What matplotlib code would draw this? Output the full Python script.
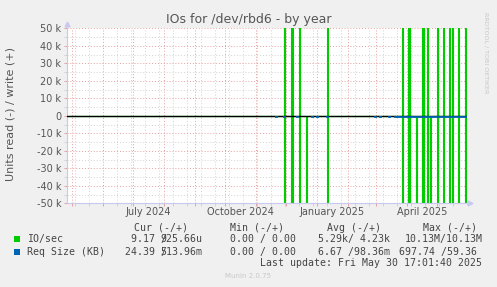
import matplotlib
matplotlib.use("Agg")
import matplotlib.pyplot as plt
import matplotlib.dates as mdates
import matplotlib.ticker as mticker
import matplotlib.transforms as mtransforms
from matplotlib.patches import Rectangle
import numpy as np
import pandas as pd

W, H = 497, 287

last_update = pd.Timestamp("2025-05-30 17:01:40")
start = last_update - pd.Timedelta(days=400)

# IO/sec spikes, one day each (write drawn up, read drawn down)
io_write_days = ["2024-11-29", "2024-12-06", "2024-12-07", "2024-12-14", "2025-01-11",
                 "2025-03-27", "2025-04-02", "2025-04-03", "2025-04-16", "2025-04-17",
                 "2025-04-21", "2025-05-01", "2025-05-07", "2025-05-13", "2025-05-16",
                 "2025-05-22", "2025-05-29"]
io_write = [2.4e6, 3.1e6, 1.8e6, 2.2e6, 4.0e6,
            5.2e6, 10.13e6, 6.5e6, 3.3e6, 2.9e6,
            4.4e6, 3.8e6, 2.6e6, 5.9e6, 3.5e6,
            4.1e6, 2.7e6]
io_read_days = ["2024-11-29", "2024-12-06", "2024-12-07", "2024-12-14", "2024-12-21",
                "2025-01-11", "2025-03-27", "2025-04-02", "2025-04-03", "2025-04-10",
                "2025-04-16", "2025-04-17", "2025-04-21", "2025-04-24", "2025-05-01",
                "2025-05-07", "2025-05-13", "2025-05-16", "2025-05-22", "2025-05-29"]
io_read = [2.3e6, 3.0e6, 1.9e6, 2.1e6, 1.5e6,
           3.9e6, 5.1e6, 10.13e6, 6.4e6, 2.0e6,
           3.2e6, 2.8e6, 4.3e6, 1.7e6, 3.7e6,
           2.5e6, 5.8e6, 3.4e6, 4.0e6, 2.6e6]

# request size (KB), read side; the last entry runs up to the last update
req_read_days = ["2024-11-21", "2024-11-29", "2024-12-12", "2024-12-27", "2025-01-01",
                 "2025-01-11", "2025-02-28", "2025-03-05", "2025-03-14", "2025-03-20"]
req_read_len = [1, 1, 1, 1, 1, 1, 1, 1, 1, 80]
req_read_kb = [650, 620, 680, 640, 600, 697.74, 610, 630, 650, 620]

month_labels = ["July 2024", "October 2024", "January 2025", "April 2025"]
month_label_dates = ["2024-07-16", "2024-10-16", "2025-01-16", "2025-04-16"]

legend_names = ["IO/sec", "Req Size (KB)"]
legend_colors = ["#00cc00", "#0066b3"]
cur_read = ["9.17 /", "24.39 /"]
cur_write = ["925.66u", "513.96m"]
min_vals = ["0.00 / 0.00", "0.00 / 0.00"]
avg_vals = ["5.29k/ 4.23k", "6.67 /98.36m"]
max_vals = ["10.13M/10.13M", "697.74 /59.36"]


def to_steps(days, vals, lens=None, gap=0):
    # gap: value used between events (nan leaves the zero line undrawn)
    t, v = [start], [gap]
    for i, (d, val) in enumerate(zip(days, vals)):
        d = pd.Timestamp(d)
        n = 1 if lens is None else lens[i]
        t += [d, min(d + pd.Timedelta(days=n), last_update)]
        v += [val, gap]
    t.append(last_update)
    v.append(gap)
    return mdates.date2num([x.to_pydatetime() for x in t]), v


def fx(x):
    return x / W


def fy(y):
    return 1 - y / H


fig = plt.figure(figsize=(W / 100, H / 100), dpi=100, facecolor="#f0f0f0")
ax = fig.add_axes([fx(67), fy(203.3), 400 / W, 175 / H])
ax.set_facecolor("white")

t, v = to_steps(io_write_days, io_write)
ax.plot(t, v, drawstyle="steps-post", color="#00cc00", lw=0.8, zorder=2)
t, v = to_steps(io_read_days, [-x for x in io_read])
ax.plot(t, v, drawstyle="steps-post", color="#00cc00", lw=0.8, zorder=2)
ax.axhline(0, color="black", lw=1.0, zorder=3)
t, v = to_steps(req_read_days, [-x for x in req_read_kb], req_read_len, gap=np.nan)
ax.plot(t, v, drawstyle="steps-post", color="#0066b3", lw=1.3, zorder=4)

ax.set_xlim(mdates.date2num(start.to_pydatetime()), mdates.date2num(last_update.to_pydatetime()))
ax.set_ylim(-50000, 50000)

ax.xaxis.set_major_locator(mdates.MonthLocator())
minor_x = pd.date_range("2024-05-04", last_update, freq="14D")
ax.xaxis.set_minor_locator(mticker.FixedLocator(mdates.date2num([d.to_pydatetime() for d in minor_x])))
ax.xaxis.set_major_formatter(mticker.NullFormatter())
ax.yaxis.set_major_locator(mticker.MultipleLocator(10000))
ax.yaxis.set_minor_locator(mticker.MultipleLocator(5000))
ax.yaxis.set_major_formatter(mticker.FuncFormatter(
    lambda val, pos: "0" if val == 0 else f"{int(round(val / 1000))} k"))

red = "#e6a0a0"
grey = "#d2d2d2"
ax.grid(which="major", color=red, ls=(0, (1, 2)), lw=0.7, zorder=1)
ax.grid(which="minor", color=grey, ls=(0, (1, 2)), lw=0.7, zorder=0.5)
ax.set_axisbelow(True)
ax.tick_params(which="major", length=2.5, width=0.7, color=red, labelsize=7,
               labelcolor="#555555", pad=1.5)
ax.tick_params(which="minor", length=2, width=0.7, color=grey)

for s in ["top", "right"]:
    ax.spines[s].set_visible(False)
for s in ["left", "bottom"]:
    ax.spines[s].set_color("#c8c8f0")
    ax.spines[s].set_linewidth(0.8)
ax.plot([0], [1.025], marker="^", ms=3.5, color="#c8c8f0", transform=ax.transAxes, clip_on=False)
ax.plot([1.0075], [0], marker=">", ms=3.5, color="#c8c8f0", transform=ax.transAxes, clip_on=False)

trans = mtransforms.blended_transform_factory(ax.transData, fig.transFigure)
for lab, d in zip(month_labels, month_label_dates):
    ax.text(mdates.date2num(pd.Timestamp(d).to_pydatetime()), fy(212.3), lab, transform=trans,
            ha="center", va="center", fontsize=7, color="#555555")

fig.text(fx(248.3), fy(19.5), "IOs for /dev/rbd6 - by year", ha="center", va="center",
         fontsize=9, color="#555555")
fig.text(fx(11), fy(114.5), "Units read (-) / write (+)", rotation=90, ha="center",
         va="center", fontsize=8, color="#555555")
fig.text(fx(485.5), fy(53), "RRDTOOL / TOBI OETIKER", rotation=270, ha="center",
         va="center", fontsize=4.6, color="#c8c8c8")

mono = dict(family="DejaVu Sans Mono", fontsize=7.1, color="#444444", va="center")
header_y = 227.7
fig.text(fx(134), fy(header_y), "Cur (-/+)", ha="left", **mono)
fig.text(fx(230), fy(header_y), "Min (-/+)", ha="left", **mono)
fig.text(fx(326.7), fy(header_y), "Avg (-/+)", ha="left", **mono)
fig.text(fx(422.7), fy(header_y), "Max (-/+)", ha="left", **mono)

row_y = [239.3, 251.7]
for i in range(len(legend_names)):
    y = row_y[i]
    fig.add_artist(Rectangle((fx(14), fy(y + 3)), 6 / W, 6 / H, transform=fig.transFigure,
                             facecolor=legend_colors[i], edgecolor="none"))
    fig.text(fx(26.7), fy(y), legend_names[i], ha="left", **mono)
    # rrdtool draws the "/" on top of the first digit of the write value
    fig.text(fx(166.7), fy(y), cur_read[i], ha="right", **mono)
    fig.text(fx(160.5), fy(y), cur_write[i], ha="left", **mono)
    fig.text(fx(230), fy(y), min_vals[i], ha="left", **mono)
    fig.text(fx(317.7), fy(y), avg_vals[i], ha="left", **mono)
    fig.text(fx(482.7 if i == 0 else 476.7), fy(y), max_vals[i], ha="right", **mono)

fig.text(fx(482.5), fy(263.3), "Last update: Fri May 30 17:01:40 2025", ha="right", **mono)
fig.text(fx(248), fy(276), "Munin 2.0.75", ha="center", va="center", fontsize=5,
         color="#c8c8c8")

fig.savefig("out.png", dpi=100, facecolor=fig.get_facecolor())
